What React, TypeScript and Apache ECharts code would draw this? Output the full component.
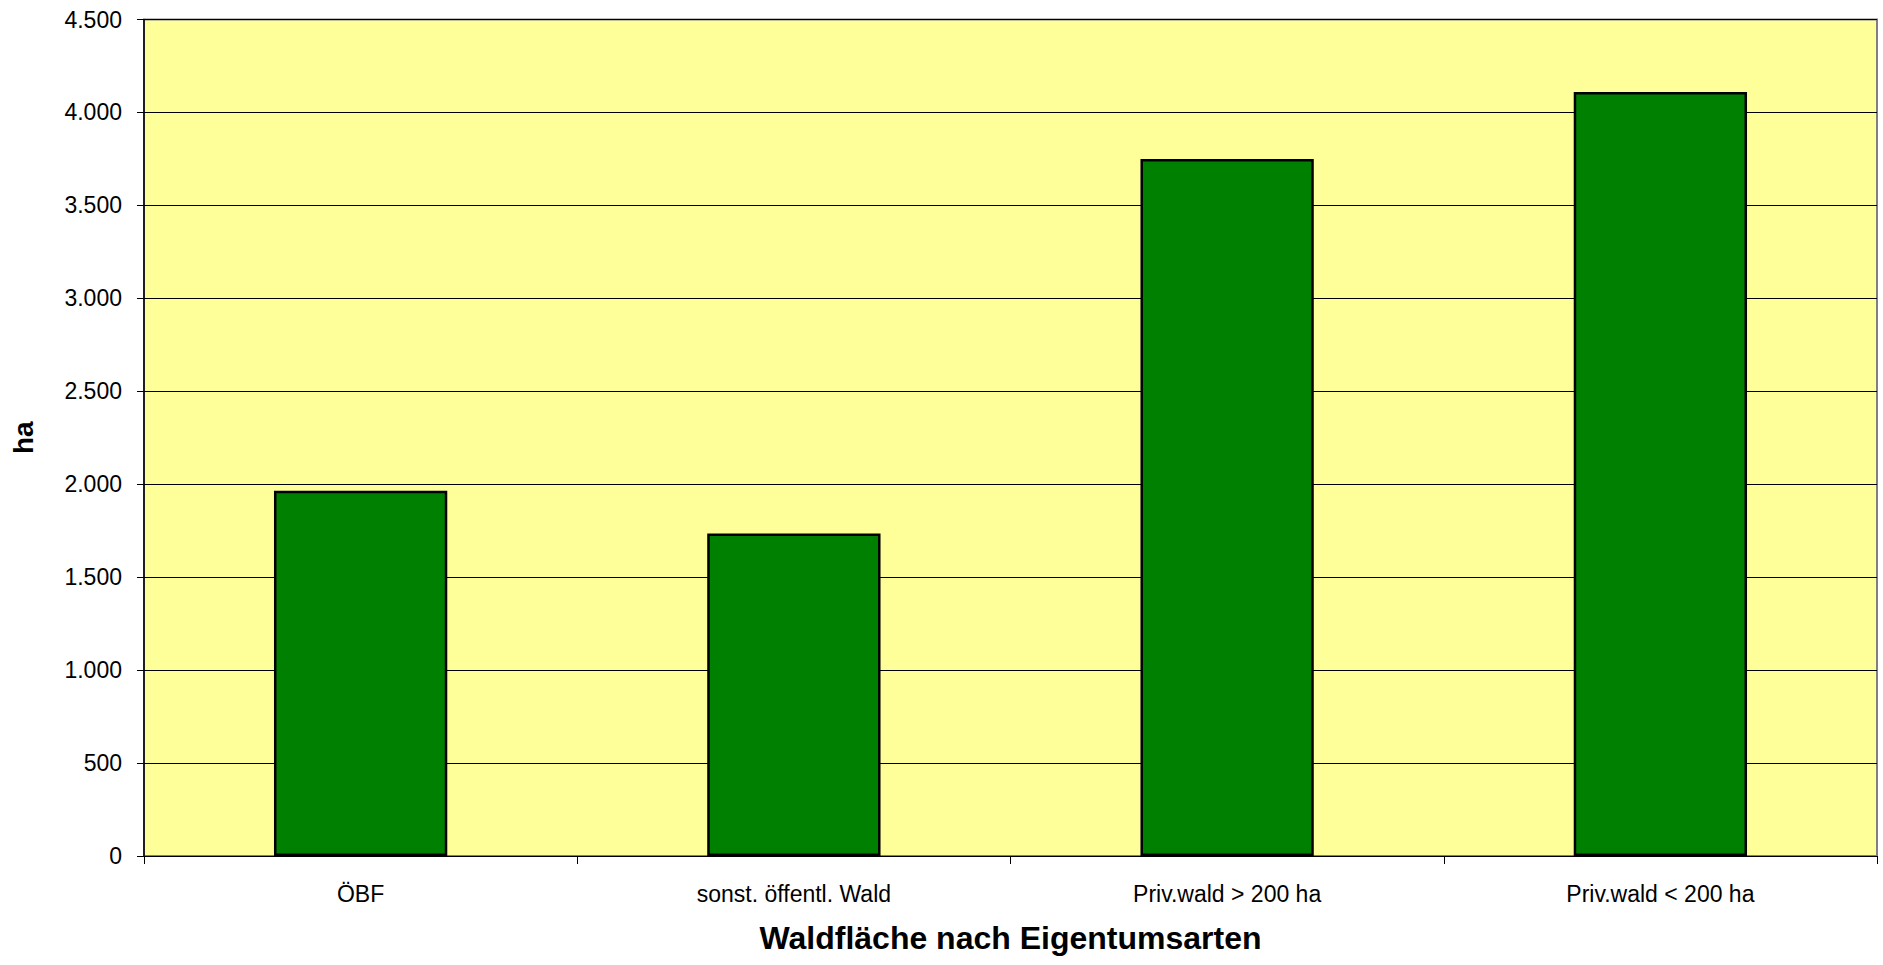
import React, { useEffect, useRef } from "react";
import * as echarts from "echarts";

const categories = ["ÖBF", "sonst. öffentl. Wald", "Priv.wald > 200 ha", "Priv.wald < 200 ha"];
const values = [1965, 1735, 3750, 4110];
const yMin = 0;
const yMax = 4500;
const yInterval = 500;
const xAxisTitle = "Waldfläche nach Eigentumsarten";
const yAxisTitle = "ha";

const fmt = (v: number) => String(v).replace(/\B(?=(\d{3})+(?!\d))/g, ".");

export default function App() {
  const ref = useRef<HTMLDivElement>(null);
  useEffect(() => {
    if (!ref.current) return;
    const chart = echarts.init(ref.current, null, { renderer: "svg" });
    const font = "'Liberation Sans', Arial, sans-serif";
    chart.setOption({
      animation: false,
      backgroundColor: "#ffffff",
      grid: {
        left: 144,
        top: 19.5,
        right: 6,
        bottom: 109,
        outerBoundsMode: "none",
        containLabel: false,
        show: true,
        backgroundColor: "#FFFF99",
        borderColor: "#808080",
        borderWidth: 2,
      },
      xAxis: {
        type: "category",
        data: categories,
        name: xAxisTitle,
        nameLocation: "middle",
        nameGap: 66,
        nameTextStyle: { fontFamily: font, fontSize: 32, fontWeight: "bold", color: "#000" },
        axisLine: { show: true, lineStyle: { color: "#000", width: 1 } },
        axisTick: { show: true, length: 8, lineStyle: { color: "#000" } },
        axisLabel: { fontFamily: font, fontSize: 23, color: "#000", margin: 26, interval: 0 },
        splitLine: { show: false },
      },
      yAxis: {
        type: "value",
        min: yMin,
        max: yMax,
        interval: yInterval,
        name: yAxisTitle,
        nameLocation: "middle",
        nameRotate: 90,
        nameGap: 107,
        nameTextStyle: { fontFamily: font, fontSize: 28, fontWeight: "bold", color: "#000" },
        axisLine: { show: true, lineStyle: { color: "#000", width: 1.5 } },
        axisTick: { show: true, length: 7, lineStyle: { color: "#000" } },
        axisLabel: { fontFamily: font, fontSize: 23, color: "#000", margin: 22, formatter: (v: number) => fmt(v) },
        splitLine: { show: true, lineStyle: { color: "#000", width: 1 } },
      },
      series: [
        {
          type: "bar",
          data: values,
          barCategoryGap: "60%",
          itemStyle: { color: "#008000", borderColor: "#000", borderWidth: 2.5 },
        },
      ],
    });
    return () => chart.dispose();
  }, []);
  return <div ref={ref} style={{ position: "fixed", left: 0, top: 0, width: 1883, height: 965 }} />;
}
